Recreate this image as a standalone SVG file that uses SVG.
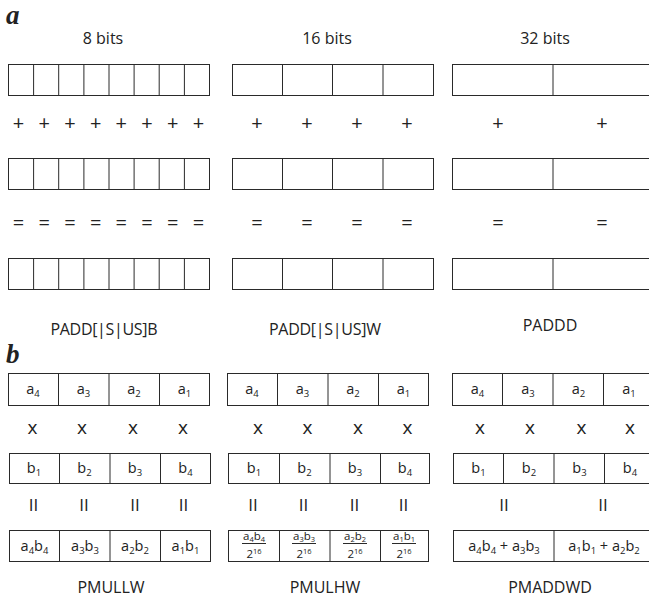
<svg xmlns="http://www.w3.org/2000/svg" width="649" height="599" viewBox="0 0 649 599">
<style>
text{font-family:"Open Sans","Noto Sans",sans-serif;fill:#222;text-anchor:middle}
.lbl{font-family:"Liberation Serif",serif;font-weight:bold;font-style:italic;font-size:27px;text-anchor:start}
.hd{font-size:16px}
.op{font-size:20px}
.cap{font-size:16px}
.c{font-size:14.5px}
.s{font-size:9.5px}
.fr{font-size:11.5px}
.fs{font-size:7.5px}
.box{fill:none;stroke:#2a2a2a;stroke-width:1}
.dv{stroke:#2a2a2a;stroke-width:1}
</style>
<rect width="649" height="599" fill="#fff"/>

<g id="panel-a">
<text class="lbl" x="6" y="24">a</text>
<text class="hd" x="103" y="44">8 bits</text>
<text class="hd" x="327" y="44">16 bits</text>
<text class="hd" x="545" y="44">32 bits</text>

<g id="a-8bit-row1">
<rect class="box" x="8.5" y="64.5" width="201" height="31"/>
<path class="dv" d="M33.6 64.5v31M58.7 64.5v31M83.9 64.5v31M109 64.5v31M134.1 64.5v31M159.2 64.5v31M184.4 64.5v31"/>
</g>
<g id="a-16bit-row1">
<rect class="box" x="232.5" y="64.5" width="201" height="31"/>
<path class="dv" d="M282.5 64.5v31M332.5 64.5v31M383 64.5v31"/>
</g>
<g id="a-32bit-row1">
<rect class="box" x="452.5" y="64.5" width="202" height="31"/>
<path class="dv" d="M553 64.5v31"/>
</g>

<g id="a-plus" class="op">
<text x="18.5" y="130">+</text><text x="44.2" y="130">+</text><text x="69.9" y="130">+</text><text x="95.6" y="130">+</text>
<text x="121.3" y="130">+</text><text x="147" y="130">+</text><text x="172.7" y="130">+</text><text x="198.4" y="130">+</text>
<text x="257" y="130">+</text><text x="307" y="130">+</text><text x="357" y="130">+</text><text x="407" y="130">+</text>
<text x="498" y="130">+</text><text x="602" y="130">+</text>
</g>

<g id="a-8bit-row2">
<rect class="box" x="8.5" y="158.5" width="201" height="31"/>
<path class="dv" d="M33.6 158.5v31M58.7 158.5v31M83.9 158.5v31M109 158.5v31M134.1 158.5v31M159.2 158.5v31M184.4 158.5v31"/>
</g>
<g id="a-16bit-row2">
<rect class="box" x="232.5" y="158.5" width="201" height="31"/>
<path class="dv" d="M282.5 158.5v31M332.5 158.5v31M383 158.5v31"/>
</g>
<g id="a-32bit-row2">
<rect class="box" x="452.5" y="158.5" width="202" height="31"/>
<path class="dv" d="M553 158.5v31"/>
</g>

<g id="a-equals" class="op">
<text x="18.5" y="230">=</text><text x="44.2" y="230">=</text><text x="69.9" y="230">=</text><text x="95.6" y="230">=</text>
<text x="121.3" y="230">=</text><text x="147" y="230">=</text><text x="172.7" y="230">=</text><text x="198.4" y="230">=</text>
<text x="257" y="230">=</text><text x="307" y="230">=</text><text x="357" y="230">=</text><text x="407" y="230">=</text>
<text x="498" y="230">=</text><text x="602" y="230">=</text>
</g>

<g id="a-8bit-row3">
<rect class="box" x="8.5" y="258.5" width="201" height="31"/>
<path class="dv" d="M33.6 258.5v31M58.7 258.5v31M83.9 258.5v31M109 258.5v31M134.1 258.5v31M159.2 258.5v31M184.4 258.5v31"/>
</g>
<g id="a-16bit-row3">
<rect class="box" x="232.5" y="258.5" width="201" height="31"/>
<path class="dv" d="M282.5 258.5v31M332.5 258.5v31M383 258.5v31"/>
</g>
<g id="a-32bit-row3">
<rect class="box" x="452.5" y="258.5" width="202" height="31"/>
<path class="dv" d="M553 258.5v31"/>
</g>

<text class="cap" x="104" y="335" textLength="107" lengthAdjust="spacing">PADD[|S|US]B</text>
<text class="cap" x="325" y="335" textLength="112" lengthAdjust="spacing">PADD[|S|US]W</text>
<text class="cap" x="550" y="331">PADDD</text>
</g>

<g id="panel-b">
<text class="lbl" x="6" y="363">b</text>

<g id="b-left-a">
<rect class="box" x="8.5" y="373.5" width="201" height="32"/>
<path class="dv" d="M58.5 373.5v32M109 373.5v32M159.5 373.5v32"/>
<g class="c">
<text x="33" y="394">a<tspan class="s" dy="3">4</tspan></text>
<text x="83.5" y="394">a<tspan class="s" dy="3">3</tspan></text>
<text x="134" y="394">a<tspan class="s" dy="3">2</tspan></text>
<text x="184.5" y="394">a<tspan class="s" dy="3">1</tspan></text>
</g>
</g>
<g id="b-mid-a">
<rect class="box" x="227.5" y="373.5" width="201" height="32"/>
<path class="dv" d="M277.5 373.5v32M328 373.5v32M378.5 373.5v32"/>
<g class="c">
<text x="252" y="394">a<tspan class="s" dy="3">4</tspan></text>
<text x="302.5" y="394">a<tspan class="s" dy="3">3</tspan></text>
<text x="353" y="394">a<tspan class="s" dy="3">2</tspan></text>
<text x="403.5" y="394">a<tspan class="s" dy="3">1</tspan></text>
</g>
</g>
<g id="b-right-a">
<rect class="box" x="452.5" y="373.5" width="202" height="32"/>
<path class="dv" d="M502.5 373.5v32M553 373.5v32M603.5 373.5v32"/>
<g class="c">
<text x="477.5" y="394">a<tspan class="s" dy="3">4</tspan></text>
<text x="528" y="394">a<tspan class="s" dy="3">3</tspan></text>
<text x="578.5" y="394">a<tspan class="s" dy="3">2</tspan></text>
<text x="629" y="394">a<tspan class="s" dy="3">1</tspan></text>
</g>
</g>

<g id="b-times" class="op" style="font-size:19px">
<text x="32.5" y="434">x</text><text x="82" y="434">x</text><text x="133" y="434">x</text><text x="183" y="434">x</text>
<text x="258" y="434">x</text><text x="307.5" y="434">x</text><text x="358" y="434">x</text><text x="407.5" y="434">x</text>
<text x="480" y="434">x</text><text x="530" y="434">x</text><text x="581.5" y="434">x</text><text x="630" y="434">x</text>
</g>

<g id="b-left-b">
<rect class="box" x="9.5" y="453.5" width="201" height="30"/>
<path class="dv" d="M59.5 453.5v30M110 453.5v30M160.5 453.5v30"/>
<g class="c">
<text x="34" y="473">b<tspan class="s" dy="3">1</tspan></text>
<text x="84.5" y="473">b<tspan class="s" dy="3">2</tspan></text>
<text x="135" y="473">b<tspan class="s" dy="3">3</tspan></text>
<text x="185.5" y="473">b<tspan class="s" dy="3">4</tspan></text>
</g>
</g>
<g id="b-mid-b">
<rect class="box" x="228.5" y="453.5" width="201" height="30"/>
<path class="dv" d="M279.5 453.5v30M330 453.5v30M380.5 453.5v30"/>
<g class="c">
<text x="254" y="473">b<tspan class="s" dy="3">1</tspan></text>
<text x="304.5" y="473">b<tspan class="s" dy="3">2</tspan></text>
<text x="355" y="473">b<tspan class="s" dy="3">3</tspan></text>
<text x="405" y="473">b<tspan class="s" dy="3">4</tspan></text>
</g>
</g>
<g id="b-right-b">
<rect class="box" x="453.5" y="453.5" width="202" height="30"/>
<path class="dv" d="M503.5 453.5v30M554 453.5v30M604.5 453.5v30"/>
<g class="c">
<text x="478.5" y="473">b<tspan class="s" dy="3">1</tspan></text>
<text x="529" y="473">b<tspan class="s" dy="3">2</tspan></text>
<text x="579.5" y="473">b<tspan class="s" dy="3">3</tspan></text>
<text x="630" y="473">b<tspan class="s" dy="3">4</tspan></text>
</g>
</g>

<g id="b-equals" style="font-size:17px">
<text x="33.5" y="511">II</text><text x="84" y="511">II</text><text x="135" y="511">II</text><text x="183.5" y="511">II</text>
<text x="253" y="511">II</text><text x="303.5" y="511">II</text><text x="354.5" y="511">II</text><text x="403.5" y="511">II</text>
<text x="504" y="511">II</text><text x="603" y="511">II</text>
</g>

<g id="b-left-r">
<rect class="box" x="9.5" y="530.5" width="201" height="31"/>
<path class="dv" d="M59.5 530.5v31M110 530.5v31M160.5 530.5v31"/>
<g class="c">
<text x="34.5" y="551">a<tspan class="s" dy="3">4</tspan><tspan dy="-3">b</tspan><tspan class="s" dy="3">4</tspan></text>
<text x="85" y="551">a<tspan class="s" dy="3">3</tspan><tspan dy="-3">b</tspan><tspan class="s" dy="3">3</tspan></text>
<text x="135" y="551">a<tspan class="s" dy="3">2</tspan><tspan dy="-3">b</tspan><tspan class="s" dy="3">2</tspan></text>
<text x="185.5" y="551">a<tspan class="s" dy="3">1</tspan><tspan dy="-3">b</tspan><tspan class="s" dy="3">1</tspan></text>
</g>
</g>
<g id="b-mid-r">
<rect class="box" x="228.5" y="530.5" width="200" height="31"/>
<path class="dv" d="M279.5 530.5v31M330 530.5v31M380.5 530.5v31"/>
<path class="dv" d="M242 543.5h24M292 543.5h24M343 543.5h24M392 543.5h24"/>
<g class="fr">
<text x="254" y="540">a<tspan class="fs" dy="2">4</tspan><tspan dy="-2">b</tspan><tspan class="fs" dy="2">4</tspan></text>
<text x="304" y="540">a<tspan class="fs" dy="2">3</tspan><tspan dy="-2">b</tspan><tspan class="fs" dy="2">3</tspan></text>
<text x="355" y="540">a<tspan class="fs" dy="2">2</tspan><tspan dy="-2">b</tspan><tspan class="fs" dy="2">2</tspan></text>
<text x="404" y="540">a<tspan class="fs" dy="2">1</tspan><tspan dy="-2">b</tspan><tspan class="fs" dy="2">1</tspan></text>
<text x="254" y="557.5">2<tspan class="fs" dy="-4">16</tspan></text>
<text x="304" y="557.5">2<tspan class="fs" dy="-4">16</tspan></text>
<text x="355" y="557.5">2<tspan class="fs" dy="-4">16</tspan></text>
<text x="404" y="557.5">2<tspan class="fs" dy="-4">16</tspan></text>
</g>
</g>
<g id="b-right-r">
<rect class="box" x="453.5" y="530.5" width="202" height="31"/>
<path class="dv" d="M554 530.5v31"/>
<g class="c">
<text x="504" y="551">a<tspan class="s" dy="3">4</tspan><tspan dy="-3">b</tspan><tspan class="s" dy="3">4</tspan><tspan dy="-3"> + a</tspan><tspan class="s" dy="3">3</tspan><tspan dy="-3">b</tspan><tspan class="s" dy="3">3</tspan></text>
<text x="604" y="551">a<tspan class="s" dy="3">1</tspan><tspan dy="-3">b</tspan><tspan class="s" dy="3">1</tspan><tspan dy="-3"> + a</tspan><tspan class="s" dy="3">2</tspan><tspan dy="-3">b</tspan><tspan class="s" dy="3">2</tspan></text>
</g>
</g>

<text class="cap" x="111" y="593">PMULLW</text>
<text class="cap" x="325" y="593">PMULHW</text>
<text class="cap" x="550" y="593">PMADDWD</text>
</g>
</svg>
